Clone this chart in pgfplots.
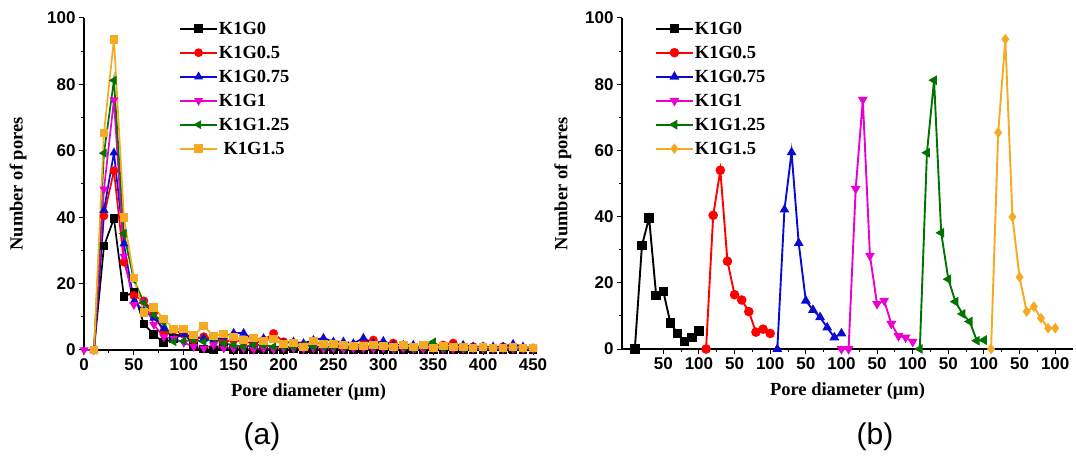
\documentclass[border=0pt]{standalone}
\usepackage{fontspec}
\setmainfont{Liberation Serif}
\setsansfont{Liberation Sans}
\usepackage{pgfplots}
\pgfplotsset{compat=1.18}

\definecolor{cblack}{RGB}{0,0,0}
\definecolor{cred}{RGB}{255,0,0}
\definecolor{cblue}{RGB}{10,10,210}
\definecolor{cmag}{RGB}{235,0,210}
\definecolor{cgreen}{RGB}{0,115,0}
\definecolor{corange}{RGB}{245,170,35}

\tikzset{lblfont/.style={font=\bfseries\fontsize{18.5}{20}\selectfont}}

\pgfplotsset{
  common/.style={
    scale only axis,
    axis lines=left,
    axis line style={-, line width=1.3pt},
    tick align=outside,
    major tick length=5pt,
    minor tick length=3pt,
    every tick/.style={black, line width=1pt},
    ymin=0, ymax=100,
    ytick={0,20,...,100},
    minor y tick num=1,
    minor x tick num=1,
    /pgf/number format/assume math mode=true,
    ticklabel style={font=\sffamily\bfseries\fontsize{17}{17}\selectfont},
    clip=false,
    legend cell align=left,
    legend image code/.code={
      \draw[mark repeat=2,mark phase=2,##1] plot coordinates {(0pt,0pt) (18.5pt,0pt) (37pt,0pt)};
    },
  },
}

\begin{document}
\begin{tikzpicture}
\path[use as bounding box] (0,0) rectangle (1076pt,458pt);

% ---------------- panel (a) ----------------
\begin{axis}[common,
  at={(84pt,108pt)}, anchor=south west,
  width=449pt, height=332pt,
  xmin=0, xmax=450,
  xtick={0,50,...,450},
  xlabel={Pore diameter (μm)},
  ylabel={Number of pores},
  every axis x label/.style={at={(axis description cs:0.5,-0.127)}, anchor=center, lblfont},
  every axis y label/.style={at={(axis description cs:-0.147,0.5)}, rotate=90, anchor=center, lblfont},
  legend style={at={(axis description cs:0.205,1.0)}, anchor=north west, draw=none, fill=none,
    font=\bfseries\fontsize{18.5}{18.5}\selectfont, row sep=7pt,
    nodes={inner sep=1pt, text height=13pt, text depth=2pt}},
  every axis plot/.append style={line width=1.7pt, mark size=3.5pt},
]
\addplot[cblack, mark=square*] coordinates {
(10,0)(20,31.3)(30,39.6)(40,16.1)(50,17.4)(60,7.8)(70,4.7)(80,2.2)(90,3.5)(100,5.5)
(110,1.0)(120,0.3)(130,0)(140,1.0)(150,0)(160,0)(170,0)(180,0)(190,0)(200,0)
(210,0.5)(220,0)(230,0)(240,0)(250,0)(260,0)(270,0)(280,0)(290,0)(300,0)
(310,0)(320,0)(330,0)(340,0)(350,0)(360,0)(370,0)(380,0)(390,0)(400,0)
(410,0)(420,0)(430,0)(440,0)(450,0)};
\addlegendentry{K1G0}
\addplot[cred, mark=*] coordinates {
(10,0)(20,40.4)(30,54.0)(40,26.5)(50,16.4)(60,14.8)(70,11.3)(80,5.1)(90,6.0)(100,4.7)
(110,3.0)(120,4.0)(130,3.5)(140,2.5)(150,3.0)(160,2.5)(170,2.0)(180,3.0)(190,5.0)(200,2.5)
(210,2.0)(220,1.5)(230,2.0)(240,2.0)(250,1.5)(260,1.0)(270,1.0)(280,2.0)(290,3.0)(300,1.5)
(310,2.1)(320,1.0)(330,1.0)(340,1.0)(350,1.0)(360,1.5)(370,2.1)(380,1.0)(390,1.0)(400,1.0)
(410,0.5)(420,1.0)(430,1.0)(440,0.5)(450,0.5)};
\addlegendentry{K1G0.5}
\addplot[cblue, mark=triangle*] coordinates {
(10,0)(20,42.1)(30,59.4)(40,32.0)(50,14.6)(60,11.8)(70,9.6)(80,6.5)(90,3.5)(100,4.7)
(110,4.0)(120,3.5)(130,3.0)(140,4.0)(150,5.1)(160,5.1)(170,3.0)(180,3.5)(190,3.0)(200,2.0)
(210,2.5)(220,2.0)(230,3.0)(240,3.6)(250,2.5)(260,2.5)(270,2.0)(280,3.6)(290,2.0)(300,2.7)
(310,1.5)(320,1.5)(330,1.5)(340,1.0)(350,1.5)(360,1.0)(370,1.0)(380,1.5)(390,1.0)(400,1.0)
(410,1.0)(420,1.0)(430,1.8)(440,1.0)(450,0.5)};
\addlegendentry{K1G0.75}
\addplot[cmag, mark=triangle*, mark options={rotate=180}] coordinates {
(0,0)(10,0)(20,48.4)(30,75.3)(40,28.2)(50,13.6)(60,14.6)(70,7.6)(80,3.9)(90,3.5)(100,2.2)
(110,1.0)(120,0.5)(130,1.5)(140,0.5)(150,0.5)(160,0.5)(170,0.2)(180,0.5)(190,0.2)(200,0.5)
(210,0.5)(220,0.3)(230,0.5)(240,0.3)(250,0.5)(260,0.3)(270,0.5)(280,0.5)(290,0.3)(300,0.5)
(310,0.3)(320,0.5)(330,0.3)(340,0.3)(350,0.5)(360,0.3)(370,0.3)(380,0.3)(390,0.3)(400,0.3)
(410,0.3)(420,0.3)(430,0.3)(440,0.3)(450,0.3)};
\addlegendentry{K1G1}
\addplot[cgreen, mark=triangle*, mark options={rotate=90}] coordinates {
(10,0)(20,59.3)(30,81.2)(40,35.1)(50,21.1)(60,14.3)(70,10.6)(80,8.3)(90,2.5)(100,2.7)
(110,3.0)(120,2.5)(130,3.5)(140,2.0)(150,1.5)(160,1.0)(170,1.5)(180,1.5)(190,1.0)(200,1.0)
(210,1.0)(220,1.5)(230,1.0)(240,1.0)(250,1.0)(260,1.0)(270,1.0)(280,1.0)(290,1.0)(300,1.0)
(310,0.5)(320,1.0)(330,0.5)(340,1.0)(350,2.4)(360,0.5)(370,1.0)(380,0.5)(390,0.5)(400,0.5)
(410,0.5)(420,0.5)(430,0.5)(440,0.5)(450,0.5)};
\addlegendentry{K1G1.25}
\addplot[corange, mark=square*] coordinates {
(10,0)(20,65.4)(30,93.6)(40,39.9)(50,21.7)(60,11.3)(70,12.8)(80,9.3)(90,6.3)(100,6.3)
(110,4.5)(120,7.2)(130,4.2)(140,4.8)(150,3.9)(160,3.0)(170,3.6)(180,2.7)(190,3.3)(200,1.8)
(210,2.1)(220,0.9)(230,2.7)(240,1.8)(250,1.8)(260,1.5)(270,1.2)(280,1.2)(290,1.5)(300,1.2)
(310,0.9)(320,1.5)(330,0.9)(340,1.5)(350,0.6)(360,1.2)(370,0.9)(380,0.9)(390,0.6)(400,0.9)
(410,0.6)(420,0.6)(430,0.9)(440,0.6)(450,0.6)};
\addlegendentry{\ K1G1.5}
\end{axis}

% ---------------- panel (b) ----------------
\begin{axis}[common,
  at={(622pt,109pt)}, anchor=south west,
  width=451pt, height=331pt,
  xmin=-8, xmax=625,
  xtick={50,100,...,600},
  xticklabels={50,100,50,100,50,100,50,100,50,100,50,100},
  xlabel={Pore diameter (μm)},
  ylabel={Number of pores},
  every axis x label/.style={at={(axis description cs:0.5,-0.127)}, anchor=center, lblfont},
  every axis y label/.style={at={(axis description cs:-0.131,0.5)}, rotate=90, anchor=center, lblfont},
  legend style={at={(axis description cs:0.066,1.0)}, anchor=north west, draw=none, fill=none,
    font=\bfseries\fontsize{18.5}{18.5}\selectfont, row sep=7pt,
    nodes={inner sep=1pt, text height=13pt, text depth=2pt}},
  every axis plot/.append style={line width=1.9pt, mark size=3.8pt},
]
\addplot[cblack, mark=square*] coordinates {
(10,0)(20,31.3)(30,39.6)(40,16.1)(50,17.4)(60,7.8)(70,4.7)(80,2.2)(90,3.5)(100,5.5)};
\addlegendentry{K1G0}
\addplot[cred, mark=*] coordinates {
(110,0)(120,40.4)(130,54.0)(140,26.5)(150,16.4)(160,14.8)(170,11.3)(180,5.1)(190,6.0)(200,4.7)};
\addlegendentry{K1G0.5}
\addplot[cblue, mark=triangle*] coordinates {
(210,0)(220,42.1)(230,59.4)(240,32.0)(250,14.6)(260,11.8)(270,9.6)(280,6.5)(290,3.5)(300,4.7)};
\addlegendentry{K1G0.75}
\addplot[cmag, mark=triangle*, mark options={rotate=180}] coordinates {
(300,0)(310,0)(320,48.4)(330,75.3)(340,28.2)(350,13.6)(360,14.6)(370,7.6)(380,3.9)(390,3.5)(400,2.2)};
\addlegendentry{K1G1}
\addplot[cgreen, mark=triangle*, mark options={rotate=90}] coordinates {
(410,0)(420,59.3)(430,81.2)(440,35.1)(450,21.1)(460,14.3)(470,10.6)(480,8.3)(490,2.5)(500,2.7)};
\addlegendentry{K1G1.25}
\addplot[corange, mark=diamond*] coordinates {
(510,0)(520,65.4)(530,93.6)(540,39.9)(550,21.7)(560,11.3)(570,12.8)(580,9.3)(590,6.3)(600,6.3)};
\addlegendentry{K1G1.5}
\end{axis}

\node[font=\sffamily\fontsize{30}{30}\selectfont] at (262pt,21pt) {(a)};
\node[font=\sffamily\fontsize{30}{30}\selectfont] at (875pt,21pt) {(b)};
\end{tikzpicture}
\end{document}
